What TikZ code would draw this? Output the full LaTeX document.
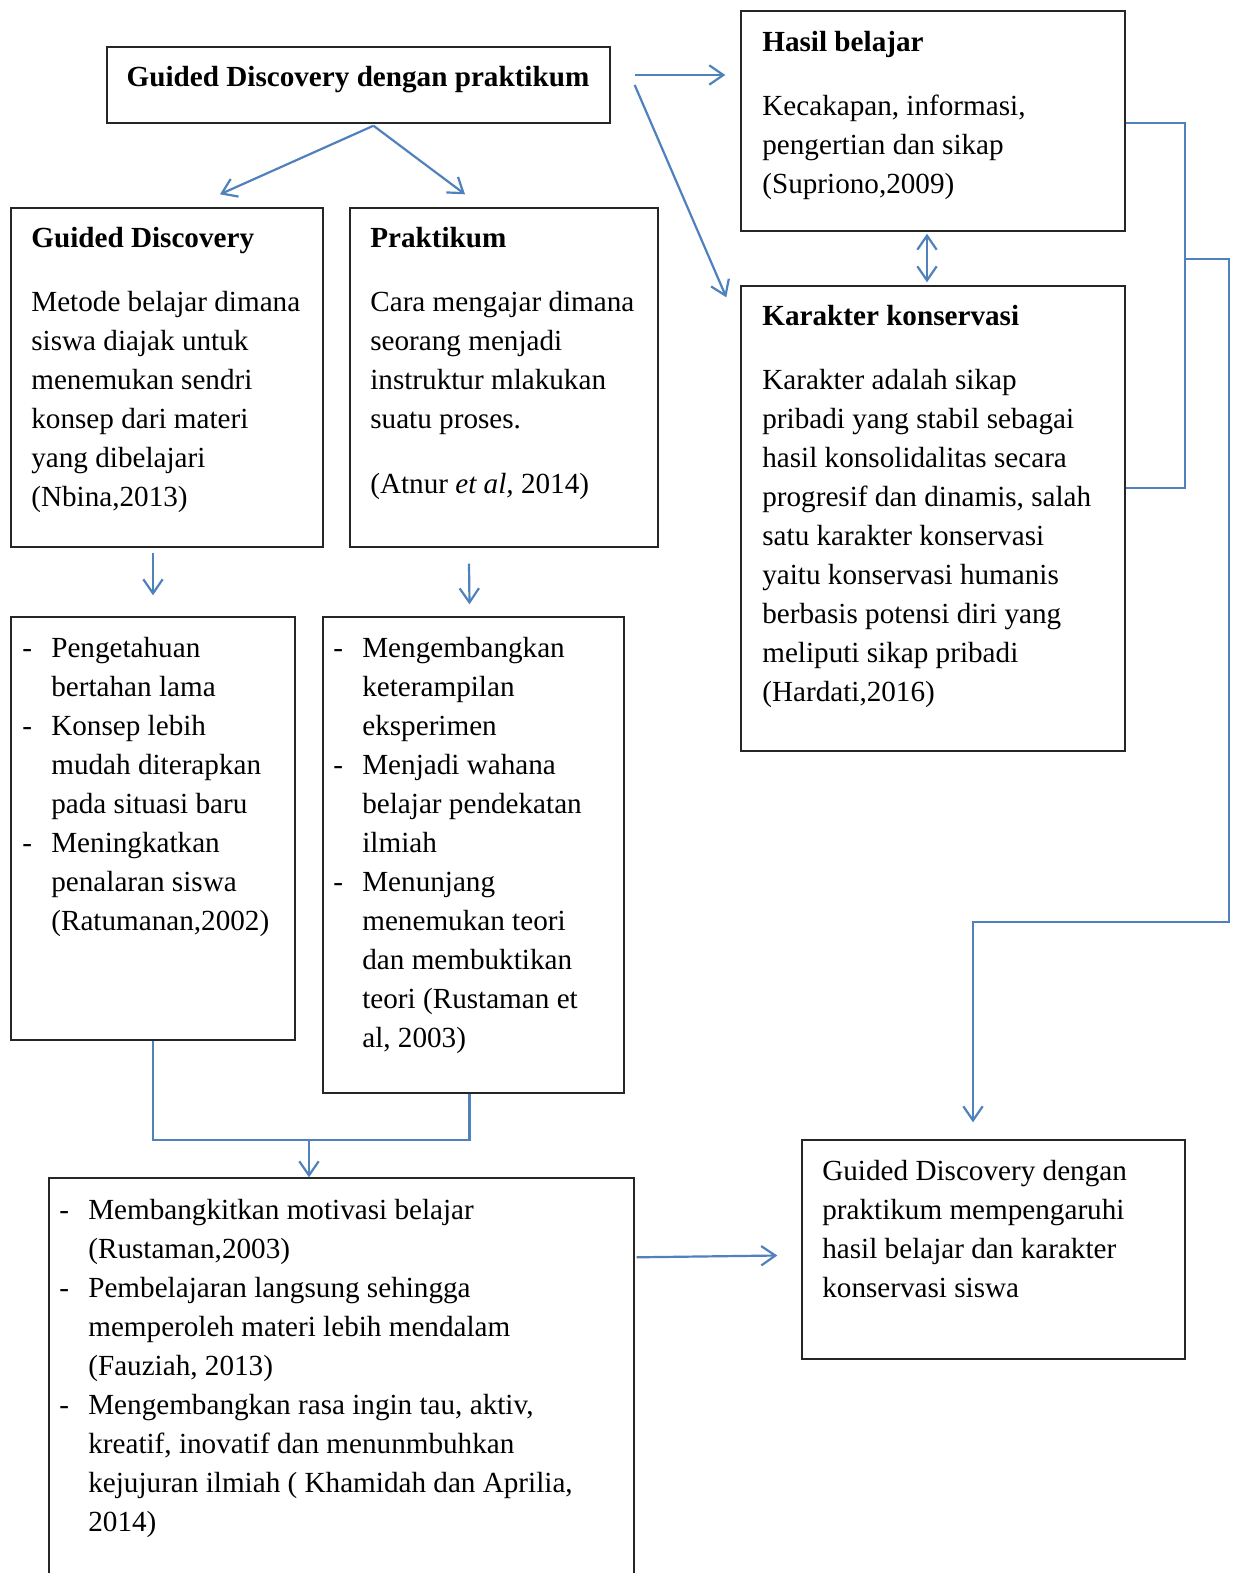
\documentclass[tikz,border=0pt]{standalone}
\usepackage{fontspec}
\setmainfont{Liberation Serif}
\usepackage{xcolor}
\usepackage{tikz}
\usetikzlibrary{arrows.meta,positioning,calc,fit}
\definecolor{lineblue}{HTML}{4F81BD}
\newcommand{\dsh}{\makebox[16.5pt][l]{-}}
\newcommand{\ind}{\hspace*{16.5pt}}

\begin{document}
\begin{tikzpicture}[x=0.02cm,y=-0.02cm,
	box/.style={
		draw=black!85,
		line width=0.8pt,
		inner sep=0pt
	},
	txt/.style={
		anchor=north west,
		inner sep=0pt,
		align=left,
		font=\fontsize{16.6}{22.2}\selectfont
	},
	arr/.style={draw=lineblue, line width=1.25pt, -{Straight Barb[length=8pt,width=11pt]}},
	link/.style={draw=lineblue, line width=1.25pt},
	]
	\fill[white] (0,0) rectangle (1238,1573);
	\useasboundingbox (0,0) rectangle (1238,1573);
	\clip (0,0) rectangle (1238,1573);

	% boxes
	\node[box, fit={(107,47) (610,123)}] (GDP) {};
	\node[box, fit={(11,208) (323,547)}] (GD) {};
	\node[box, fit={(350,208) (658,547)}] (PR) {};
	\node[box, fit={(741,11) (1125,231)}] (HB) {};
	\node[box, fit={(741,286) (1125,751)}] (KK) {};
	\node[box, fit={(11,617) (295,1040)}] (L1) {};
	\node[box, fit={(323,617) (624,1093)}] (L2) {};
	\node[box, fit={(49,1178) (634,1620)}] (L3) {};
	\node[box, fit={(802,1140) (1185,1359)}] (S) {};

	% texts
	\node[txt, anchor=north] (tGDP) at (358,59) {\strut\textbf{Guided Discovery dengan praktikum}};
	\node[txt] (tGD) at (31,220) {\strut\textbf{Guided Discovery}\\[14pt]
		Metode belajar dimana\\ siswa diajak untuk\\ menemukan sendri\\
		konsep dari materi\\ yang dibelajari\\ (Nbina,2013)};
	\node[txt] (tPR) at (370,220) {\strut\textbf{Praktikum}\\[14pt]
		Cara mengajar dimana\\ seorang menjadi\\ instruktur mlakukan\\
		suatu proses.\\[15pt] (Atnur \textit{et al,} 2014)};
	\node[txt] (tHB) at (762,24) {\strut\textbf{Hasil belajar}\\[14pt]
		Kecakapan, informasi,\\ pengertian dan sikap\\ (Supriono,2009)};
	\node[txt] (tKK) at (762,298) {\strut\textbf{Karakter konservasi}\\[14pt]
		Karakter adalah sikap\\ pribadi yang stabil sebagai\\
		hasil konsolidalitas secara\\ progresif dan dinamis, salah\\
		satu karakter konservasi\\ yaitu konservasi humanis\\
		berbasis potensi diri yang\\ meliputi sikap pribadi\\ (Hardati,2016)};
	\node[txt] (tL1) at (22,630) {\strut\dsh Pengetahuan\\ \ind bertahan lama\\
		\dsh Konsep lebih\\ \ind mudah diterapkan\\ \ind pada situasi baru\\
		\dsh Meningkatkan\\ \ind penalaran siswa\\ \ind (Ratumanan,2002)};
	\node[txt] (tL2) at (333,630) {\strut\dsh Mengembangkan\\ \ind keterampilan\\ \ind eksperimen\\
		\dsh Menjadi wahana\\ \ind belajar pendekatan\\ \ind ilmiah\\
		\dsh Menunjang\\ \ind menemukan teori\\ \ind dan membuktikan\\
		\ind teori (Rustaman et\\ \ind al, 2003)};
	\node[txt] (tL3) at (59,1192) {\strut\dsh Membangkitkan motivasi belajar\\ \ind (Rustaman,2003)\\
		\dsh Pembelajaran langsung sehingga\\ \ind memperoleh materi lebih mendalam\\
		\ind (Fauziah, 2013)\\
		\dsh Mengembangkan rasa ingin tau, aktiv,\\ \ind kreatif, inovatif dan menunmbuhkan\\
		\ind kejujuran ilmiah ( Khamidah dan Aprilia,\\ \ind 2014)};
	\node[txt] (tS) at (822,1153) {\strut Guided Discovery dengan\\ praktikum mempengaruhi\\
		hasil belajar dan karakter\\ konservasi siswa};

	% connectors
	\coordinate (fork) at ($(GDP.south)+(15,2)$);
	\draw[arr] (fork) to ($(GD.north)+(53,-13)$);
	\draw[arr] (fork) to ($(PR.north)+(-39,-13)$);
	\draw[arr] ($(GDP.east)+(24,-10)$) to ($(HB.west)+(-15,-46)$);
	\draw[arr] ($(GDP.east)+(24,0)$) to ($(KK.north west)+(-14,12)$);
	\draw[arr, {Straight Barb[length=8pt,width=11pt]}-{Straight Barb[length=8pt,width=11pt]}] ($(HB.south)+(-6,2)$) to ($(KK.north)+(-6,-3)$);
	\draw[arr] ($(GD.south)+(-14,5)$) to ($(L1.north)+(0,-21)$);
	\draw[arr] ($(PR.south)+(-35,16)$) to ($(L2.north)+(-4,-12)$);

	\coordinate (mrg) at (309,1140);
	\draw[link] (L1.south) |- (mrg) -| ($(L2.south)+(-4,0)$);
	\draw[arr] (mrg) to (mrg |- L3.north);
	\draw[arr] ($(L3.north east)+(2,80)$) to ($(S.west)+(-24,6)$);

	\coordinate (rb) at (1185,259);
	\draw[link] ($(HB.east)+(0,2)$) -| (rb) |- ($(KK.east)+(0,-30.5)$);
	\coordinate (ra) at (1229,922);
	\draw[arr] (rb) -| (ra) -| ($(S.north)+(-20.5,-17)$);
\end{tikzpicture}
\end{document}
